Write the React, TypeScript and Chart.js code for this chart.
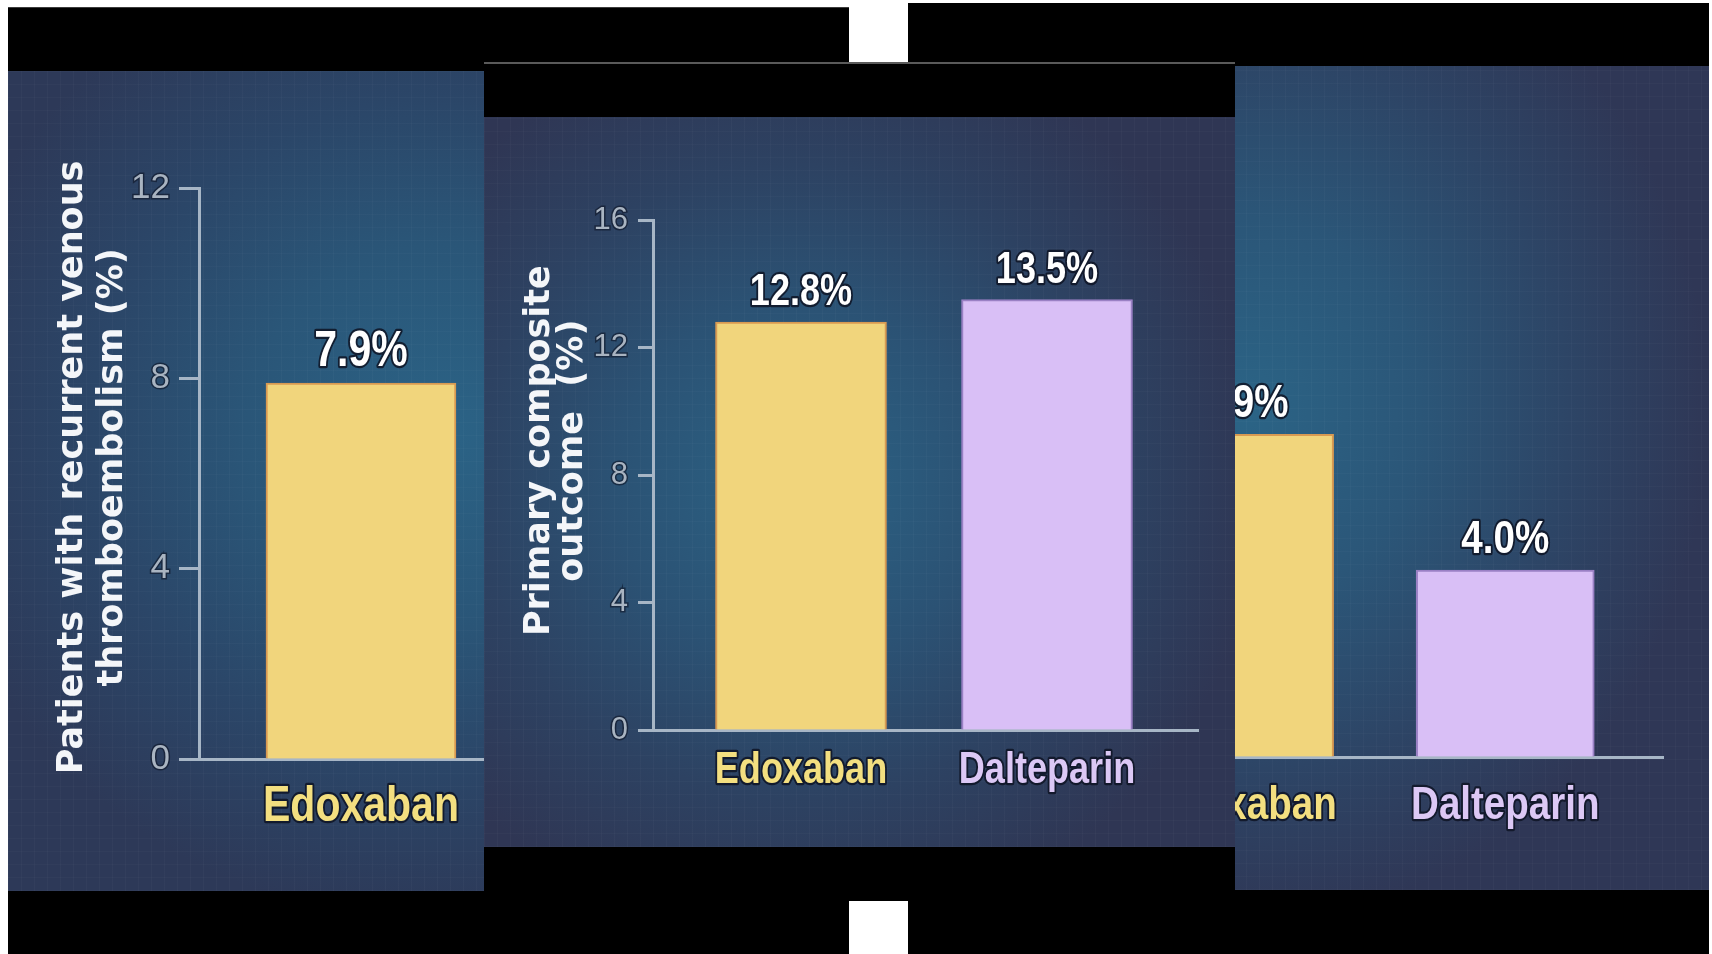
import React, { useEffect, useRef } from 'react';
import { Chart, registerables } from 'chart.js';

Chart.register(...registerables);

// ---------- data ----------
const leftCategories = ['Edoxaban'];
const leftValues = [7.9];
const leftValueLabels = ['7.9%'];
const leftYTicks = [0, 4, 8, 12];
const leftTitle = [' Patients with recurrent venous', ' thromboembolism (%)'];

const middleCategories = ['Edoxaban', 'Dalteparin'];
const middleValues = [12.8, 13.5];
const middleValueLabels = ['12.8%', '13.5%'];
const middleYTicks = [0, 4, 8, 12, 16];
const middleTitle = ['    Primary composite', '    outcome  (%)'];

const rightCategories = ['Edoxaban', 'Dalteparin'];
const rightValues = [6.9, 4.0];
const rightValueLabels = ['6.9%', '4.0%'];
const rightYTicks = [0, 4, 8, 12];

// ---------- styles ----------
const BAR_FILL: Record<string, string> = { Edoxaban: '#f1d57c', Dalteparin: '#d9bff6' };
const BAR_EDGE: Record<string, string> = { Edoxaban: '#d89a52', Dalteparin: '#9a80c4' };
const CAT_COLOR: Record<string, string> = { Edoxaban: '#f3df80', Dalteparin: '#dcc8f5' };
const AXIS = '#a7b6c6';
const TICK = '#a9b4c1';
const OUTLINE = 'rgba(14,20,36,0.85)';
const SANS = '"Liberation Sans", Arial, sans-serif';
const NARROW_SCALE = 0.82;

function drawNarrowText(ctx: any, text: string, x: number, y: number, fill: string) {
  ctx.save();
  ctx.translate(x, y);
  ctx.scale(NARROW_SCALE, 1);
  ctx.lineJoin = 'round';
  ctx.lineWidth = 4.5;
  ctx.strokeStyle = OUTLINE;
  ctx.strokeText(text, 0, 0);
  ctx.fillStyle = fill;
  ctx.fillText(text, 0, 0);
  ctx.restore();
}

const valueLabelPlugin = {
  id: 'valueLabels',
  afterDatasetsDraw(chart: any, _args: any, opts: any) {
    const { ctx } = chart;
    const meta = chart.getDatasetMeta(0);
    ctx.save();
    ctx.font = `bold ${opts.size}px ${SANS}`;
    ctx.textAlign = 'center';
    ctx.textBaseline = 'alphabetic';
    meta.data.forEach((bar: any, i: number) => {
      drawNarrowText(ctx, opts.labels[i], bar.x, bar.y - opts.gap, '#ffffff');
    });
    ctx.restore();
  },
};

const categoryLabelPlugin = {
  id: 'categoryLabels',
  afterDraw(chart: any, _args: any, opts: any) {
    const { ctx, chartArea } = chart;
    const xScale = chart.scales.x;
    ctx.save();
    ctx.font = `bold ${opts.size}px ${SANS}`;
    ctx.textAlign = 'center';
    ctx.textBaseline = 'alphabetic';
    opts.categories.forEach((cat: string, i: number) => {
      const x = xScale.getPixelForValue(i);
      drawNarrowText(ctx, cat, x, chartArea.bottom + opts.offset, CAT_COLOR[cat] || '#fff');
    });
    ctx.restore();
  },
};

type PanelCfg = {
  categories: string[];
  values: number[];
  valueLabels: string[];
  yTicks: number[];
  title?: string[];
  width: number;
  height: number;
  area: { left: number; top: number; bottom: number; right: number };
  xMin: number;
  xMax: number;
  barThickness: number;
  valueSize: number;
  catSize: number;
  catOffset: number;
  tickSize: number;
  tickLength: number;
  tickPadding: number;
  titleLineHeight?: number;
  titlePadTop?: number;
  gap: number;
};

function buildConfig(c: PanelCfg): any {
  return {
    type: 'bar',
    data: {
      datasets: [
        {
          data: c.values.map((v, i) => ({ x: i, y: v })),
          backgroundColor: c.categories.map((k) => BAR_FILL[k]),
          borderColor: c.categories.map((k) => BAR_EDGE[k]),
          borderWidth: 2,
          borderSkipped: 'bottom',
          barThickness: c.barThickness,
        },
      ],
    },
    options: {
      animation: false,
      responsive: false,
      maintainAspectRatio: false,
      events: [],
      layout: {
        padding: { left: 0, top: c.area.top, right: c.width - c.area.right, bottom: 0 },
      },
      plugins: {
        legend: { display: false },
        tooltip: { enabled: false },
        valueLabels: { labels: c.valueLabels, size: c.valueSize, gap: c.gap },
        categoryLabels: { categories: c.categories, size: c.catSize, offset: c.catOffset },
      },
      scales: {
        x: {
          type: 'linear',
          min: c.xMin,
          max: c.xMax,
          offset: false,
          afterBuildTicks: (axis: any) => {
            axis.ticks = c.categories.map((_, i) => ({ value: i }));
          },
          afterFit: (s: any) => {
            s.height = c.height - c.area.bottom;
          },
          grid: { display: false, drawTicks: false, offset: false },
          border: { display: true, color: AXIS, width: 3 },
          ticks: { display: false },
        },
        y: {
          min: 0,
          max: c.yTicks[c.yTicks.length - 1],
          afterBuildTicks: (axis: any) => {
            axis.ticks = c.yTicks.map((v) => ({ value: v }));
          },
          afterFit: (s: any) => {
            s.width = c.area.left;
          },
          grid: {
            drawOnChartArea: false,
            drawTicks: true,
            tickLength: c.tickLength,
            tickWidth: 3,
            tickColor: AXIS,
          },
          border: { display: true, color: AXIS, width: 3 },
          ticks: {
            padding: c.tickPadding,
            color: TICK,
            font: { family: SANS, size: c.tickSize },
            textStrokeColor: 'rgba(14,20,36,0.6)',
            textStrokeWidth: 3,
          },
          title: c.title
            ? {
                display: true,
                text: c.title,
                color: '#f4f6f9',
                font: {
                  family: '"DejaVu Sans", "Liberation Sans", sans-serif',
                  weight: 'bold',
                  size: 35,
                  lineHeight: (c.titleLineHeight || 40) / 35,
                },
                padding: { top: c.titlePadTop || 0, bottom: 0 },
              }
            : { display: false },
        },
      },
    },
    plugins: [valueLabelPlugin, categoryLabelPlugin],
  };
}

function BarChart({ cfg }: { cfg: PanelCfg }) {
  const ref = useRef<HTMLCanvasElement>(null);
  useEffect(() => {
    const chart = new Chart(ref.current as HTMLCanvasElement, buildConfig(cfg));
    return () => chart.destroy();
  }, []);
  return (
    <canvas
      ref={ref}
      width={cfg.width}
      height={cfg.height}
      style={{ position: 'absolute', left: 0, top: 0, width: cfg.width, height: cfg.height, display: 'block' }}
    />
  );
}

const texture =
  'repeating-linear-gradient(90deg, rgba(255,255,255,0.022) 0px, rgba(255,255,255,0.022) 1px, rgba(0,0,0,0) 1px, rgba(0,0,0,0) 13px), ' +
  'repeating-linear-gradient(0deg, rgba(255,255,255,0.018) 0px, rgba(255,255,255,0.018) 1px, rgba(0,0,0,0) 1px, rgba(0,0,0,0) 13px)';

const leftBg =
  texture +
  ', radial-gradient(ellipse 62% 60% at 52% 44%, #2b6386 0%, #2a5678 38%, #2b4668 68%, #2d3958 100%)';
const middleBg =
  texture +
  ', radial-gradient(ellipse 62% 62% at 42% 50%, #2b6385 0%, #2b5274 40%, #2d4262 70%, #2f3654 100%)';
const rightBg =
  texture +
  ', radial-gradient(ellipse 58% 62% at 42% 42%, #2b6486 0%, #2b5678 38%, #2d4566 70%, #2f3756 100%)';

const leftCfg: PanelCfg = {
  categories: leftCategories,
  values: leftValues,
  valueLabels: leftValueLabels,
  yTicks: leftYTicks,
  title: leftTitle,
  width: 841,
  height: 820,
  area: { left: 191, top: 117, bottom: 688, right: 771 },
  xMin: -0.62,
  xMax: 1.6,
  barThickness: 190,
  valueSize: 50,
  catSize: 50,
  catOffset: 62,
  tickSize: 35,
  tickLength: 20,
  tickPadding: 9,
  titleLineHeight: 40,
  titlePadTop: 45,
  gap: 17,
};

const middleCfg: PanelCfg = {
  categories: middleCategories,
  values: middleValues,
  valueLabels: middleValueLabels,
  yTicks: middleYTicks,
  title: middleTitle,
  width: 751,
  height: 730,
  area: { left: 169, top: 103, bottom: 613, right: 714 },
  xMin: -0.6016,
  xMax: 1.6138,
  barThickness: 171,
  valueSize: 44,
  catSize: 44,
  catOffset: 53,
  tickSize: 31,
  tickLength: 15,
  tickPadding: 10,
  titleLineHeight: 33,
  titlePadTop: 39,
  gap: 17,
};

const rightCfg: PanelCfg = {
  categories: rightCategories,
  values: rightValues,
  valueLabels: rightValueLabels,
  yTicks: rightYTicks,
  width: 801,
  height: 824,
  area: { left: 175, top: 130, bottom: 691, right: 755 },
  xMin: -0.62,
  xMax: 1.605,
  barThickness: 178,
  valueSize: 47,
  catSize: 47,
  catOffset: 62,
  tickSize: 33,
  tickLength: 19,
  tickPadding: 9,
  gap: 17,
};

export default function App() {
  return (
    <div
      style={{
        position: 'fixed',
        left: 0,
        top: 0,
        width: 1712,
        height: 954,
        background: '#ffffff',
        overflow: 'hidden',
      }}
    >
      {/* left panel */}
      <div style={{ position: 'absolute', left: 8, top: 7, width: 841, height: 947, background: '#000', borderTop: '1px solid #3c3c3c', zIndex: 1 }} />
      <div style={{ position: 'absolute', left: 8, top: 71, width: 841, height: 820, background: leftBg, zIndex: 1, overflow: 'hidden' }}>
        <BarChart cfg={leftCfg} />
      </div>

      {/* right panel */}
      <div style={{ position: 'absolute', left: 908, top: 3, width: 801, height: 951, background: '#000', zIndex: 2 }} />
      <div style={{ position: 'absolute', left: 908, top: 66, width: 801, height: 824, background: rightBg, zIndex: 2, overflow: 'hidden' }}>
        <BarChart cfg={rightCfg} />
      </div>

      {/* middle panel */}
      <div style={{ position: 'absolute', left: 484, top: 62, width: 751, height: 839, background: '#000', borderTop: '2px solid #5a5a5a', boxSizing: 'border-box', zIndex: 3 }} />
      <div style={{ position: 'absolute', left: 484, top: 117, width: 751, height: 730, background: middleBg, zIndex: 3, overflow: 'hidden' }}>
        <BarChart cfg={middleCfg} />
      </div>
    </div>
  );
}
